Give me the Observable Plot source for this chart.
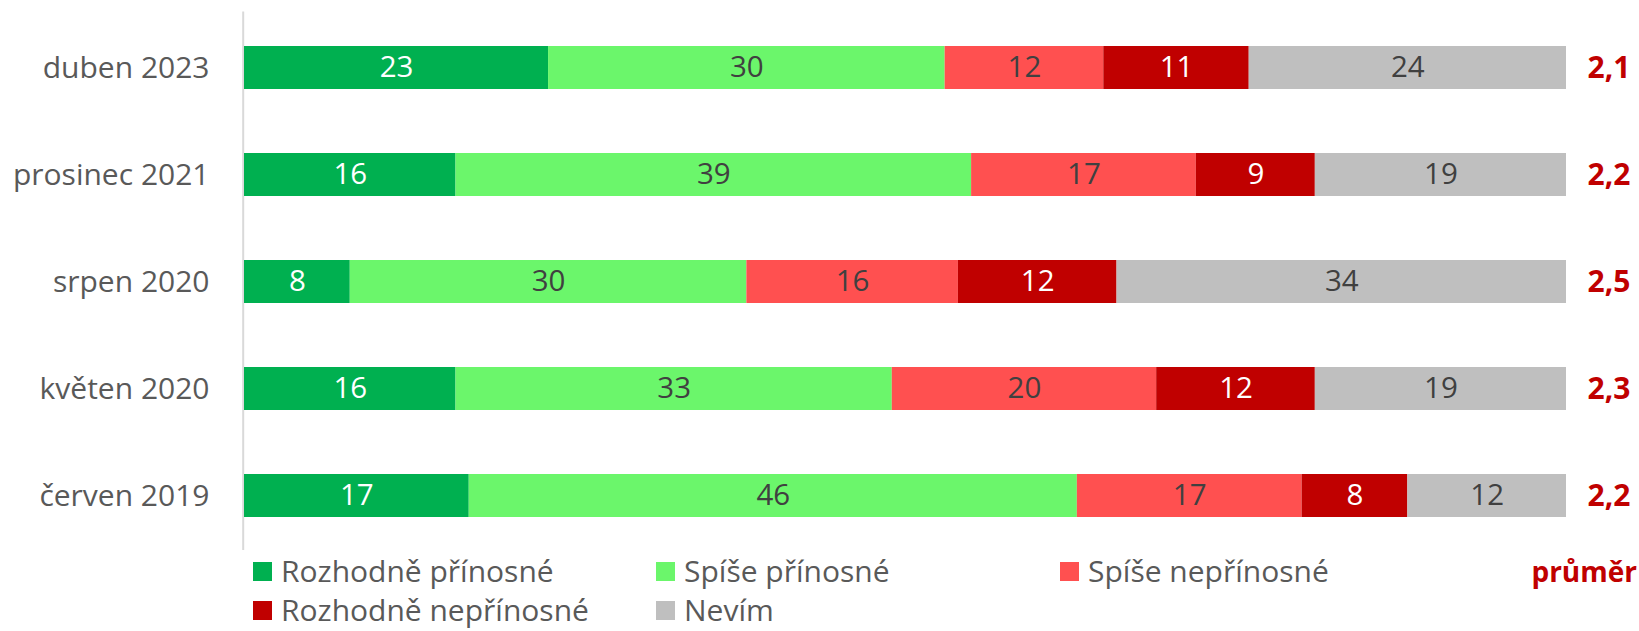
<!DOCTYPE html>
<html>
<head>
<meta charset="utf-8">
<script src="https://cdn.jsdelivr.net/npm/d3@7"></script>
<script src="https://cdn.jsdelivr.net/npm/@observablehq/plot@0.6"></script>
<style>
  body { margin: 0; background: #fff; font-family: "Open Sans", sans-serif; }
  #wrap { position: relative; width: 1639px; height: 631px; overflow: hidden; }
  #legend { position: relative; width: 1639px; height: 76px; }
  .sw { position: absolute; width: 19px; height: 19px; }
  .lt { position: absolute; font-size: 30px; color: #595959; line-height: 30px; white-space: nowrap; }
  .avg { position: absolute; font-size: 28px; color: #C00000; font-weight: bold; line-height: 30px; white-space: nowrap; }
</style>
</head>
<body>
<div id="wrap"><div id="chart"></div><div id="legend"></div></div>
<script>
const periods = ["duben 2023", "prosinec 2021", "srpen 2020", "květen 2020", "červen 2019"];
const seriesNames = ["Rozhodně přínosné", "Spíše přínosné", "Spíše nepřínosné", "Rozhodně nepřínosné", "Nevím"];
const rozhodnePrinosne   = [23, 16, 8, 16, 17];
const spisePrinosne      = [30, 39, 30, 33, 46];
const spiseNeprinosne    = [12, 17, 16, 20, 17];
const rozhodneNeprinosne = [11, 9, 12, 12, 8];
const nevim              = [24, 19, 34, 19, 12];
const averages           = [2.1, 2.2, 2.5, 2.3, 2.2];
const averageLabel = "průměr";

const seriesColors = ["#00B050", "#6BF66B", "#FF5050", "#C00000", "#BFBFBF"];
const labelColors  = ["#FFFFFF", "#404040", "#404040", "#FFFFFF", "#404040"];

const seriesValues = [rozhodnePrinosne, spisePrinosne, spiseNeprinosne, rozhodneNeprinosne, nevim];
const data = [];
periods.forEach((p, i) => {
  seriesNames.forEach((s, j) => {
    data.push({period: p, series: s, value: seriesValues[j][i], labelColor: labelColors[j]});
  });
});
const avgData = periods.map((p, i) => ({period: p, avg: averages[i]}));
const fmt = v => v.toFixed(1).replace(".", ",");

const W = 1639, H = 555;
const chart = Plot.plot({
  width: W,
  height: H,
  marginLeft: 244,
  marginRight: 73,
  marginTop: 33,
  marginBottom: 25.5,
  style: {fontFamily: "'Open Sans', sans-serif", background: "#fff", overflow: "visible"},
  x: {domain: [0, 100], axis: null},
  y: {domain: periods, paddingInner: 0.6, paddingOuter: 0.1, label: null},
  color: {domain: seriesNames, range: seriesColors, legend: false},
  marks: [
    Plot.ruleX([0], {stroke: "#D9D9D9", strokeWidth: 2, dx: -1.3, insetTop: -21.5, insetBottom: -20.5}),
    Plot.barX(data, Plot.stackX({x: "value", y: "period", fill: "series", order: seriesNames})),
    Plot.text(data, Plot.stackX({x: "value", y: "period", order: seriesNames, text: d => String(d.value),
      fill: d => d.labelColor, fontSize: 29.5})),
    Plot.text(avgData, {x: () => 100, y: "period", text: d => fmt(d.avg), textAnchor: "start", dx: 21,
      fill: "#C00000", fontWeight: "bold", fontSize: 30}),
    Plot.axisY({tickSize: 0, tickPadding: 35, fontSize: 30, color: "#595959", label: null})
  ]
});
document.getElementById("chart").appendChild(chart);

// legend below the SVG
const legend = document.getElementById("legend");
const legendPos = [
  {sx: 253, tx: 281, row: 0},
  {sx: 656, tx: 684, row: 0},
  {sx: 1060, tx: 1088, row: 0},
  {sx: 253, tx: 281, row: 1},
  {sx: 656, tx: 684, row: 1}
];
const rowCenters = [571 - H, 610 - H];
seriesNames.forEach((s, j) => {
  const p = legendPos[j];
  const sw = document.createElement("div");
  sw.className = "sw";
  sw.style.left = p.sx + "px";
  sw.style.top = (rowCenters[p.row] - 9.5) + "px";
  sw.style.background = seriesColors[j];
  legend.appendChild(sw);
  const t = document.createElement("div");
  t.className = "lt";
  t.style.left = p.tx + "px";
  t.style.top = (rowCenters[p.row] - 15) + "px";
  t.textContent = s;
  legend.appendChild(t);
});
const a = document.createElement("div");
a.className = "avg";
a.style.right = "2px";
a.style.top = (rowCenters[0] - 15) + "px";
a.textContent = averageLabel;
legend.appendChild(a);
</script>
</body>
</html>
